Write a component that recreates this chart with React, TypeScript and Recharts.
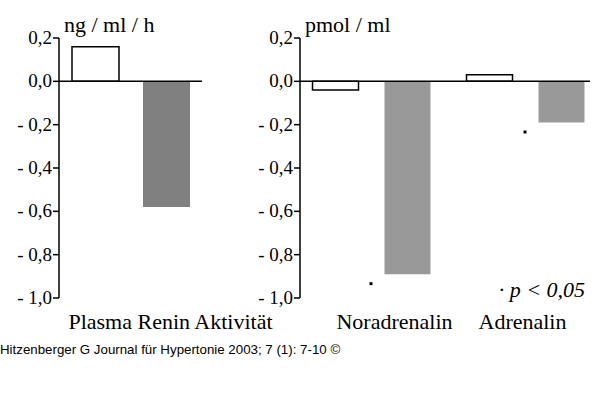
import { BarChart, Bar, XAxis, YAxis, ReferenceLine, LabelList } from 'recharts';

const yTicks = [0.2, 0, -0.2, -0.4, -0.6, -0.8, -1.0];

const reninCategories = ['Plasma Renin Aktivität'];
const reninPlacebo = [0.16];
const reninVerum = [-0.58];
const reninSignificant = [false];

const catecholCategories = ['Noradrenalin', 'Adrenalin'];
const catecholPlacebo = [-0.04, 0.03];
const catecholVerum = [-0.89, -0.19];
const catecholSignificant = [true, true];

// horizontal nudges of the category captions (they are not centred on the bars)
const reninLabelShift = [40];
const catecholLabelShift = [23, -3];

const serif = '"Liberation Serif", "Times New Roman", serif';

const fmt = (v: number) => {
  if (v === 0) return '0,0';
  const s = Math.abs(v).toFixed(1).replace('.', ',');
  return v < 0 ? '- ' + s : s;
};

const build = (cats: string[], a: number[], b: number[], sig: boolean[]) =>
  cats.map((name, i) => ({ name, placebo: a[i], verum: b[i], sig: sig[i] }));

const reninData = build(reninCategories, reninPlacebo, reninVerum, reninSignificant);
const catecholData = build(catecholCategories, catecholPlacebo, catecholVerum, catecholSignificant);

const makeTick = (shifts: number[]) => (props: any) => {
  const { x, y, payload, index } = props;
  return (
    <text x={x + (shifts[index] || 0)} y={y + 23} textAnchor="middle" fontFamily={serif} fontSize={22} fill="#000">
      {payload.value}
    </text>
  );
};

const YTick = (props: any) => {
  const { x, y, payload } = props;
  return (
    <text x={x} y={y + 6} textAnchor="end" fontFamily={serif} fontSize={19} fill="#000">
      {fmt(payload.value)}
    </text>
  );
};

const sigDot = (data: { sig: boolean }[]) => (props: any) => {
  const { x, y, height, index } = props;
  if (!data[index] || !data[index].sig) return null;
  const bottom = Math.max(y, y + height);
  return <rect x={x - 15} y={bottom + 8} width={3} height={3} fill="#000" />;
};

const yAxisProps = {
  domain: [-1, 0.2] as [number, number],
  ticks: yTicks,
  interval: 0 as const,
  tickSize: 6,
  tickMargin: 1,
  axisLine: { stroke: '#000', strokeWidth: 1.5 },
  tickLine: { stroke: '#000', strokeWidth: 1.5 },
  tick: <YTick />,
};

export default function App() {
  return (
    <div style={{ position: 'absolute', left: 0, top: 0, width: 600, height: 398, background: '#fff', overflow: 'hidden', fontFamily: serif }}>
      <div style={{ position: 'absolute', left: 0, top: 0 }}>
        <BarChart width={290} height={340} data={reninData} margin={{ top: 38, right: 88, left: 0, bottom: 0 }} barSize={47} barGap={24}>
          <YAxis width={59} {...yAxisProps} />
          <XAxis dataKey="name" axisLine={false} tickLine={false} height={42} tick={makeTick(reninLabelShift)} interval={0} />
          <ReferenceLine y={0} stroke="#000" strokeWidth={1.5} />
          <Bar dataKey="placebo" fill="#fff" stroke="#000" strokeWidth={1.5} isAnimationActive={false} />
          <Bar dataKey="verum" fill="#808080" isAnimationActive={false}>
            <LabelList dataKey="verum" content={sigDot(reninData)} />
          </Bar>
        </BarChart>
      </div>
      <div style={{ position: 'absolute', left: 240, top: 0 }}>
        <BarChart width={360} height={340} data={catecholData} margin={{ top: 38, right: 10, left: 0, bottom: 0 }} barSize={46} barGap={26}>
          <YAxis width={60} {...yAxisProps} />
          <XAxis dataKey="name" axisLine={false} tickLine={false} height={42} padding={{ left: -5.5, right: -12.5 }} tick={makeTick(catecholLabelShift)} interval={0} />
          <ReferenceLine y={0} stroke="#000" strokeWidth={1.5} />
          <Bar dataKey="placebo" fill="#fff" stroke="#000" strokeWidth={1.5} isAnimationActive={false} />
          <Bar dataKey="verum" fill="#999999" isAnimationActive={false}>
            <LabelList dataKey="verum" content={sigDot(catecholData)} />
          </Bar>
        </BarChart>
      </div>
      <svg width={600} height={398} style={{ position: 'absolute', left: 0, top: 0, pointerEvents: 'none' }}>
        <text x={64} y={32} fontFamily={serif} fontSize={22} fill="#000">ng / ml / h</text>
        <text x={305} y={32} fontFamily={serif} fontSize={22} fill="#000">pmol / ml</text>
        <text x={585} y={297} textAnchor="end" fontFamily={serif} fontSize={22} fontStyle="italic" fill="#000">· p &lt; 0,05</text>
        <text x={0} y={354} fontFamily='"Liberation Sans", Arial, sans-serif' fontSize={13.3} fill="#000">
          Hitzenberger G Journal für Hypertonie 2003; 7 (1): 7-10 ©
        </text>
      </svg>
    </div>
  );
}
